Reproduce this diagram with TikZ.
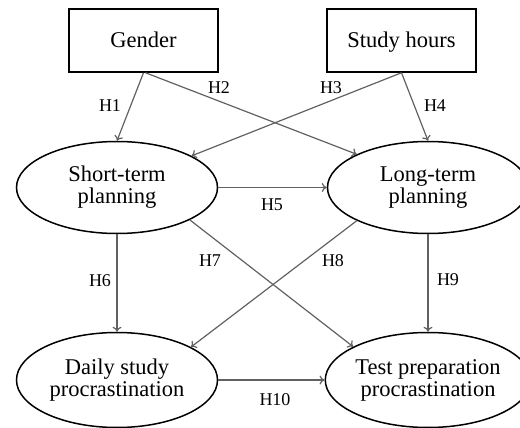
\documentclass[tikz,border=0pt]{standalone}
\usepackage{fontspec}
\setmainfont{Liberation Serif}
\usetikzlibrary{shapes.geometric,arrows.meta}

\begin{document}
\begin{tikzpicture}[x=1pt,y=-1pt,
    varbox/.style={draw=black, line width=1.5pt, minimum width=149pt, minimum height=63pt,
        text height=20pt, text depth=5pt, font=\fontsize{22.5}{24}\selectfont},
    varoval/.style={draw=black, ellipse, line width=1.5pt, minimum width=201pt, minimum height=92pt,
        align=center, inner sep=0pt, font=\fontsize{22.5}{22}\selectfont},
    path/.style={draw=black!62, line width=1.2pt, -{To[length=5pt,width=9pt]}},
    hyp/.style={font=\fontsize{18}{20}\selectfont}]
        \clip (0,0) rectangle (520,428);
        % observed variables
        \node[varbox] (gender) at (143.5,40.5) {Gender};
        \node[varbox] (hours) at (401.5,40.5) {Study hours};
        % planning and procrastination
        \node[varoval] (short) at (117,187.5) {Short-term\\planning};
        \node[varoval] (long) at (428,187.5) {Long-term\\planning};
        \node[varoval, minimum height=95pt] (daily) at (117,380) {Daily study\\procrastination};
        \node[varoval, minimum height=95pt] (test) at (428,380) {Test preparation\\procrastination};
        % paths
        \draw[path] (gender.south) -- (short.north);
        \draw[path] ([xshift=2pt]gender.south) -- (long.155);
        \draw[path] (hours.south) -- (short.23);
        \draw[path] (hours.south) -- (long.north);
        \draw[path] (short.east) -- (long.west);
        \draw[path] (short.south) -- (daily.north);
        \draw[path] (short.336) -- (test.156);
        \draw[path] (long.205) -- (daily.24);
        \draw[path] (long.south) -- (test.north);
        \draw[path] (daily.east) -- (test.west);
        % hypothesis labels
        \node[hyp] (H1) at (110,106) {H1};
        \node[hyp] (H2) at (219,88) {H2};
        \node[hyp] (H3) at (331,88) {H3};
        \node[hyp] (H4) at (435,106) {H4};
        \node[hyp] (H5) at (272,205) {H5};
        \node[hyp] (H6) at (100,281) {H6};
        \node[hyp] (H7) at (210,261) {H7};
        \node[hyp] (H8) at (333,261) {H8};
        \node[hyp] (H9) at (448,280) {H9};
        \node[hyp] (H10) at (275,400) {H10};
      \end{tikzpicture}
\end{document}
